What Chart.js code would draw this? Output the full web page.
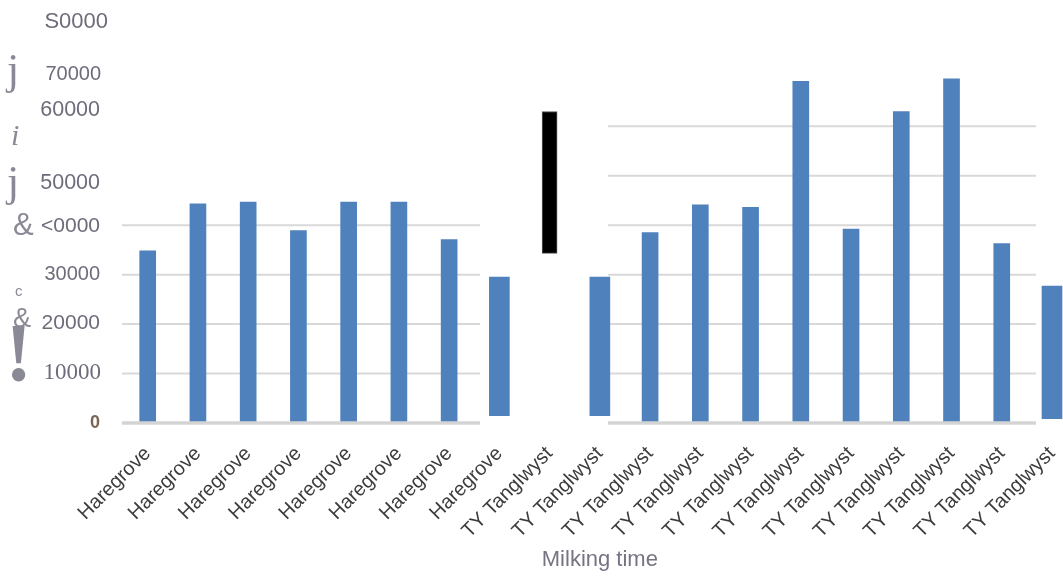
<!DOCTYPE html>
<html>
<head>
<meta charset="utf-8">
<title>Milking time</title>
<script src="https://cdn.jsdelivr.net/npm/chart.js@4.4.1/dist/chart.umd.min.js"></script>
<style>
  html, body { margin: 0; padding: 0; background: #ffffff; overflow: hidden; }
  canvas { display: block; }
</style>
</head>
<body>
<canvas id="chart" width="1063" height="577"></canvas>
<script>
// ---- data ----
const categories = [
  'Haregrove', 'Haregrove', 'Haregrove', 'Haregrove', 'Haregrove', 'Haregrove', 'Haregrove', 'Haregrove',
  'TY Tanglwyst', 'TY Tanglwyst', 'TY Tanglwyst', 'TY Tanglwyst', 'TY Tanglwyst', 'TY Tanglwyst',
  'TY Tanglwyst', 'TY Tanglwyst', 'TY Tanglwyst', 'TY Tanglwyst', 'TY Tanglwyst'
];

// main series (bars standing on zero)
const milkYield = [
  34800, 44300, 44700, 38900, 44700, 44700, 37100, null,
  null, null, 38500, 44100, 43600, 69100, 39200, 63000, 69600, 36300, null
];

// wide floating blocks
const blockLow  = [null, null, null, null, null, null, null, 1500, null, 1500, null, null, null, null, null, null, null, null, 900];
const blockHigh = [null, null, null, null, null, null, null, 29500, null, 29500, null, null, null, null, null, null, null, null, 27700];

// black floating marker
const markerLow  = [null, null, null, null, null, null, null, null, 34300, null, null, null, null, null, null, null, null, null, null];
const markerHigh = [null, null, null, null, null, null, null, null, 63000, null, null, null, null, null, null, null, null, null, null];

// y axis tick values and the labels printed beside them
const yTickValues = [0, 10000, 20000, 30000, 40000, 50000, 60000, 70000, 80000];
const yTickLabels = ['0', '10000', '20000', '30000', '<0000', '50000', '60000', '70000', 'S0000'];

// glyphs printed down the left margin
const sideGlyphs = ['j', 'i', 'j', '&', 'c', '&', '!'];

const xTitle = 'Milking time';

// ---- styles ----
const BAR_BLUE = '#4f81bd';
const GRID_COLOR = '#d9d9d9';
const AXIS_COLOR = '#d4d4d4';
const LABEL_GREY = '#6e6c7a';
const GLYPH_GREY = '#8a8996';

// per-label styling for the y tick labels (same order as yTickLabels)
const yLabelStyle = [
  { font: 'bold 18px "Liberation Sans"', color: '#7a6553', right: 100, shift: 0 },
  { font: '23px "Liberation Serif"', color: LABEL_GREY, right: 101, shift: -1 },
  { font: '21px "Liberation Sans"', color: LABEL_GREY, right: 100, shift: -1 },
  { font: '20px "Liberation Sans"', color: LABEL_GREY, right: 100, shift: 0 },
  { font: '21px "Liberation Sans"', color: LABEL_GREY, right: 100, shift: 1 },
  { font: '21.5px "Liberation Sans"', color: LABEL_GREY, right: 100, shift: 7 },
  { font: '21.5px "Liberation Sans"', color: LABEL_GREY, right: 100, shift: -16 },
  { font: '20px "Liberation Sans"', color: LABEL_GREY, right: 101, shift: -2 },
  { font: '22px "Liberation Sans"', color: LABEL_GREY, right: 108, shift: -5 }
];

// placement of the margin glyphs (same order as sideGlyphs)
const glyphStyle = [
  { font: '44px "Liberation Serif"', x: 7, y: 84 },
  { font: 'italic 30px "Liberation Serif"', x: 11, y: 145 },
  { font: '44px "Liberation Serif"', x: 7, y: 196 },
  { font: '31px "Liberation Sans"', x: 13, y: 235 },
  { font: '15px "Liberation Sans"', x: 15, y: 296 },
  { font: '27px "Liberation Sans"', x: 13, y: 327 },
  { font: 'bold 82px "Liberation Serif"', x: 5, y: 380 }
];

// two gridline panels: [x0, x1] in pixels and the highest gridline value drawn
const gridPanels = [
  { x0: 122, x1: 480, maxValue: 40000 },
  { x0: 608, x1: 1036, maxValue: 60000 }
];

// ---- plugins ----
const panelGrid = {
  id: 'panelGrid',
  beforeDatasetsDraw(chart) {
    const { ctx } = chart;
    const y = chart.scales.y;
    ctx.save();
    ctx.strokeStyle = GRID_COLOR;
    ctx.lineWidth = 2;
    gridPanels.forEach(p => {
      yTickValues.forEach(v => {
        if (v === 0 || v > p.maxValue) return;
        const py = y.getPixelForValue(v);
        ctx.beginPath();
        ctx.moveTo(p.x0, py);
        ctx.lineTo(p.x1, py);
        ctx.stroke();
      });
    });
    ctx.restore();
  },
  afterDatasetsDraw(chart) {
    const { ctx } = chart;
    const py = chart.scales.y.getPixelForValue(0);
    ctx.save();
    ctx.strokeStyle = AXIS_COLOR;
    ctx.lineWidth = 3.5;
    gridPanels.forEach(p => {
      ctx.beginPath();
      ctx.moveTo(p.x0, py);
      ctx.lineTo(p.x1, py);
      ctx.stroke();
    });
    ctx.restore();
  }
};

const yLabels = {
  id: 'yLabels',
  afterDraw(chart) {
    const { ctx } = chart;
    const y = chart.scales.y;
    ctx.save();
    ctx.textAlign = 'right';
    ctx.textBaseline = 'middle';
    yTickLabels.forEach((t, i) => {
      const s = yLabelStyle[i];
      ctx.font = s.font;
      ctx.fillStyle = s.color;
      ctx.fillText(t, s.right, y.getPixelForValue(yTickValues[i]) + s.shift);
    });
    ctx.restore();
  }
};

const marginGlyphs = {
  id: 'marginGlyphs',
  afterDraw(chart) {
    const { ctx } = chart;
    ctx.save();
    ctx.textAlign = 'left';
    ctx.textBaseline = 'alphabetic';
    ctx.fillStyle = GLYPH_GREY;
    sideGlyphs.forEach((g, i) => {
      const s = glyphStyle[i];
      ctx.font = s.font;
      ctx.fillText(g, s.x, s.y);
    });
    ctx.restore();
  }
};

// ---- chart ----
Chart.defaults.font.family = '"Liberation Sans", Arial, sans-serif';

new Chart(document.getElementById('chart'), {
  type: 'bar',
  data: {
    labels: categories,
    datasets: [
      {
        label: 'Milk yield',
        data: milkYield,
        backgroundColor: BAR_BLUE,
        barThickness: 16,
        grouped: false,
        clip: false
      },
      {
        label: 'Blocks',
        data: blockLow.map((lo, i) => (lo === null ? null : [lo, blockHigh[i]])),
        backgroundColor: BAR_BLUE,
        barThickness: 20,
        grouped: false,
        clip: false
      },
      {
        label: 'Marker',
        data: markerLow.map((lo, i) => (lo === null ? null : [lo, markerHigh[i]])),
        backgroundColor: '#000000',
        borderColor: '#555555',
        borderWidth: 1,
        borderSkipped: false,
        barThickness: 15,
        grouped: false,
        clip: false
      }
    ]
  },
  options: {
    responsive: false,
    animation: false,
    events: [],
    layout: { padding: { left: 147.7, right: 11, top: 27.4, bottom: 0 } },
    plugins: { legend: { display: false }, tooltip: { enabled: false } },
    scales: {
      x: {
        offset: false,
        grid: { display: false, drawTicks: false },
        border: { display: false },
        ticks: {
          autoSkip: false,
          minRotation: 45,
          maxRotation: 45,
          padding: 19,
          color: '#3c3c3c',
          font: { size: 20 }
        },
        title: {
          display: true,
          text: xTitle,
          color: '#767382',
          font: { size: 22 },
          padding: { top: 4, bottom: 4 }
        },
        afterFit(scale) {
          scale.height = 154;
          scale.paddingLeft = 0;
          scale.paddingRight = 0;
        }
      },
      y: {
        display: false,
        min: 0,
        max: 80000
      }
    }
  },
  plugins: [panelGrid, yLabels, marginGlyphs]
});
</script>
</body>
</html>
